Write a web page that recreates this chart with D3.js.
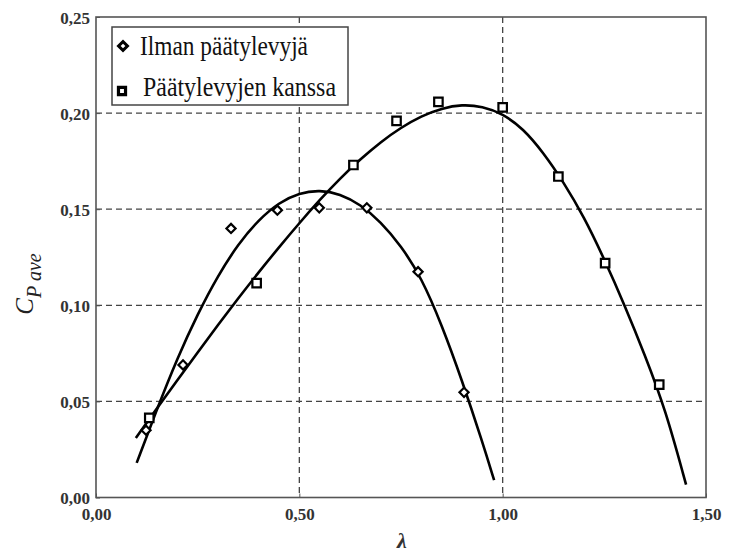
<!DOCTYPE html>
<html>
<head>
<meta charset="utf-8">
<script src="https://cdn.jsdelivr.net/npm/d3@7"></script>
<style>
  body { margin: 0; background: #fff; }
  svg { display: block; }
  .serif { font-family: 'Liberation Serif', 'Times New Roman', serif; }
  .tick-label { font-family: 'Liberation Serif', 'Times New Roman', serif; font-size: 17px; font-weight: bold; fill: #333; }
</style>
</head>
<body>
<svg id="chart" width="730" height="552"></svg>
<script>
// measured points
const noPlatesLambda = [0.123, 0.214, 0.332, 0.446, 0.549, 0.666, 0.792, 0.905]
const noPlatesCp = [0.035, 0.069, 0.140, 0.1495, 0.1507, 0.1507, 0.1175, 0.0547]
const platesLambda = [0.131, 0.395, 0.633, 0.739, 0.842, 1.0, 1.137, 1.252, 1.385]
const platesCp = [0.0414, 0.1115, 0.173, 0.196, 0.2058, 0.203, 0.167, 0.1219, 0.0587]

// fitted trend lines
const noPlatesFitLambda = [0.10, 0.15, 0.20, 0.25, 0.30, 0.35, 0.40, 0.45, 0.50, 0.55, 0.60, 0.65, 0.70, 0.75, 0.80, 0.85, 0.90, 0.95, 0.979]
const noPlatesFitCp = [0.018, 0.046, 0.0725, 0.0955, 0.1155, 0.132, 0.1445, 0.1535, 0.1585, 0.160, 0.158, 0.1525, 0.1435, 0.131, 0.1145, 0.090, 0.061, 0.029, 0.009]
const platesFitLambda = [0.098, 0.15, 0.20, 0.25, 0.30, 0.35, 0.40, 0.45, 0.50, 0.55, 0.60, 0.65, 0.70, 0.75, 0.80, 0.85, 0.90, 0.95, 1.00, 1.05, 1.10, 1.15, 1.20, 1.25, 1.30, 1.35, 1.40, 1.451]
const platesFitCp = [0.031, 0.0465, 0.061, 0.0755, 0.0898, 0.1037, 0.1172, 0.1302, 0.1428, 0.1548, 0.166, 0.176, 0.185, 0.1925, 0.1985, 0.2025, 0.2045, 0.2035, 0.1997, 0.192, 0.1795, 0.164, 0.146, 0.124, 0.100, 0.074, 0.046, 0.0067]

const xTicks = [0, 0.5, 1.0, 1.5]
const yTicks = [0, 0.05, 0.10, 0.15, 0.20, 0.25]
const legendLabels = ["Ilman päätylevyjä", "Päätylevyjen kanssa"]

const svg = d3.select("#chart")
const pLeft = 96, pRight = 706, pTop = 17, pBottom = 497.5

const x = d3.scaleLinear().domain([0, 1.5]).range([pLeft, pRight])
const y = d3.scaleLinear().domain([0, 0.25]).range([pBottom, pTop])
const fmt = d3.formatLocale({decimal: ",", thousands: " ", grouping: [3], currency: ["", ""]}).format(".2f")

// grid
const grid = svg.append("g")
grid.selectAll(".vgrid").data(xTicks.slice(1, -1)).join("line").attr("class", "vgrid")
  .attr("x1", d => x(d)).attr("x2", d => x(d)).attr("y1", pTop).attr("y2", pBottom)
  .attr("stroke", "#444").attr("stroke-width", 1.3).attr("stroke-dasharray", "6,4")
grid.selectAll(".hgrid").data(yTicks.slice(1, -1)).join("line").attr("class", "hgrid")
  .attr("y1", d => y(d)).attr("y2", d => y(d)).attr("x1", pLeft).attr("x2", pRight)
  .attr("stroke", "#444").attr("stroke-width", 1.3).attr("stroke-dasharray", "6,4")

// frame
svg.append("rect").attr("x", pLeft).attr("y", pTop).attr("width", pRight - pLeft).attr("height", pBottom - pTop)
  .attr("fill", "none").attr("stroke", "#555").attr("stroke-width", 1.6)

// axes
const xAxis = svg.append("g").attr("transform", `translate(0,${pBottom})`)
  .call(d3.axisBottom(x).tickValues(xTicks).tickFormat(fmt).tickSize(4).tickSizeOuter(0))
const yAxis = svg.append("g").attr("transform", `translate(${pLeft},0)`)
  .call(d3.axisLeft(y).tickValues(yTicks).tickFormat(fmt).tickSize(4).tickSizeOuter(0))
xAxis.attr("font-family", null).attr("font-size", null)
yAxis.attr("font-family", null).attr("font-size", null)
xAxis.select(".domain").remove()
yAxis.select(".domain").remove()
xAxis.selectAll(".tick line").attr("y2", -4).attr("stroke", "#555")
yAxis.selectAll(".tick line").attr("x2", 4).attr("stroke", "#555")
xAxis.selectAll("text").attr("class", "tick-label").attr("y", 22).attr("dy", 0)
yAxis.selectAll("text").attr("class", "tick-label").attr("x", -6).attr("dy", "0.36em")

// titles
svg.append("text").attr("class", "serif").attr("x", 402).attr("y", 548)
  .attr("text-anchor", "middle")
  .style("font-style", "italic").style("font-weight", "bold")
  .style("font-size", "22px").attr("fill", "#333").text("λ")

const yt = svg.append("text").attr("class", "serif").attr("transform", "translate(33,284) rotate(-90)")
  .attr("text-anchor", "middle")
  .style("font-style", "italic").attr("fill", "#222")
yt.append("tspan").style("font-size", "25px").text("C")
yt.append("tspan").style("font-size", "20px").attr("dy", 8).text("P ave")

// fit lines
const line = d3.line().x(d => x(d[0])).y(d => y(d[1])).curve(d3.curveBasis)
svg.append("path").datum(d3.zip(noPlatesFitLambda, noPlatesFitCp))
  .attr("d", line).attr("fill", "none").attr("stroke", "#000").attr("stroke-width", 2.6)
svg.append("path").datum(d3.zip(platesFitLambda, platesFitCp))
  .attr("d", line).attr("fill", "none").attr("stroke", "#000").attr("stroke-width", 2.6)

// markers
const diamond = d3.symbol().type(d3.symbolSquare).size(42)
const square = d3.symbol().type(d3.symbolSquare).size(72)
svg.selectAll(".dia").data(d3.zip(noPlatesLambda, noPlatesCp)).join("path").attr("class", "dia")
  .attr("d", diamond).attr("transform", d => `translate(${x(d[0])},${y(d[1])}) rotate(45)`)
  .attr("fill", "#fff").attr("stroke", "#000").attr("stroke-width", 2.2)
svg.selectAll(".sq").data(d3.zip(platesLambda, platesCp)).join("path").attr("class", "sq")
  .attr("d", square).attr("transform", d => `translate(${x(d[0])},${y(d[1])})`)
  .attr("fill", "#fff").attr("stroke", "#000").attr("stroke-width", 2.2)

// legend
const lg = svg.append("g")
lg.append("rect").attr("x", 112).attr("y", 27).attr("width", 236).attr("height", 78)
  .attr("fill", "#fff").attr("stroke", "#444").attr("stroke-width", 1.5)
lg.append("path").attr("d", d3.symbol().type(d3.symbolSquare).size(40))
  .attr("transform", "translate(123,46) rotate(45)").attr("fill", "#fff").attr("stroke", "#000").attr("stroke-width", 3)
lg.append("path").attr("d", d3.symbol().type(d3.symbolSquare).size(50))
  .attr("transform", "translate(122,91)").attr("fill", "#fff").attr("stroke", "#000").attr("stroke-width", 3.2)
lg.selectAll(".lgtext").data(legendLabels).join("text").attr("class", "lgtext serif")
  .attr("transform", (d, i) => `translate(${i === 0 ? 140 : 143},${i === 0 ? 55 : 96}) scale(1,1.15)`)
  .attr("textLength", (d, i) => i === 0 ? 168 : 193).attr("lengthAdjust", "spacingAndGlyphs")
  .style("font-size", "23px").attr("fill", "#111")
  .text(d => d)
</script>
</body>
</html>
